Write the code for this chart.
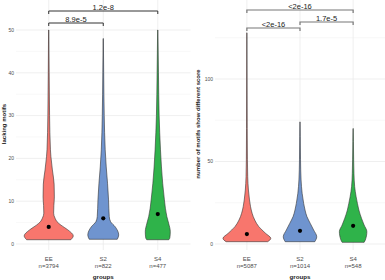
<!DOCTYPE html>
<html>
<head>
<meta charset="utf-8">
<script src="https://cdn.jsdelivr.net/npm/d3@7"></script>
<style>
  body { margin: 0; background: #fff; }
  text { font-family: "Liberation Sans", Arial, sans-serif; }
</style>
</head>
<body>
<div id="chart"></div>
<script>
const groups = ['EE', 'S2', 'S4']
const colors = ['#F8766D', '#6F94CF', '#2FB34A']

// left panel: lacking motifs
const lackCounts = ['n=3794', 'n=822', 'n=477']
const lackCenters = [4, 6, 7]
// [value, relative density]
const lackEE = [[1, 0.9], [1.9, 1.0], [3.3, 0.78], [4.4, 0.5], [5.2, 0.34], [6, 0.26], [7.2, 0.2], [9, 0.21], [11, 0.23], [14, 0.22], [17.3, 0.15], [20.4, 0.09], [22, 0.07], [30, 0.035], [40, 0.018], [50, 0.006]]
const lackS2 = [[1.1, 0.57], [2.1, 0.63], [4, 0.49], [5.2, 0.3], [6.4, 0.245], [10.3, 0.216], [14.2, 0.175], [18, 0.122], [22, 0.08], [30, 0.04], [40, 0.018], [48, 0.005]]
const lackS4 = [[1, 0.45], [1.4, 0.49], [2.9, 0.51], [4.9, 0.44], [6.4, 0.37], [10.3, 0.27], [14.2, 0.2], [18, 0.15], [22, 0.11], [30, 0.055], [40, 0.028], [50, 0.006]]
const lackTicks = [0, 10, 20, 30, 40, 50]
const lackMinor = [5, 15, 25, 35, 45]
const lackSig = [
  {from: 0, to: 1, label: '8.9e-5', y: 23},
  {from: 0, to: 2, label: '1.2e-8', y: 11}
]

// right panel: motifs with different score
const diffCounts = ['n=5087', 'n=1014', 'n=548']
const diffCenters = [6, 8, 11]
const diffEE = [[1.4, 0.87], [3.4, 1.0], [6.5, 0.78], [10.5, 0.5], [14.5, 0.33], [18.6, 0.22], [22.6, 0.154], [26.7, 0.11], [32.7, 0.065], [40.8, 0.035], [51, 0.022], [70, 0.014], [100, 0.008], [128, 0.004]]
const diffS2 = [[1.4, 0.62], [4.4, 0.7], [8.5, 0.57], [12.5, 0.43], [16.6, 0.29], [20.6, 0.21], [24.6, 0.154], [30.7, 0.09], [38.8, 0.045], [51, 0.022], [65, 0.012], [74, 0.004]]
const diffS4 = [[1, 0.46], [2.4, 0.51], [7.5, 0.575], [11.5, 0.46], [15.6, 0.35], [20.6, 0.24], [24.6, 0.18], [28.7, 0.125], [34.7, 0.065], [42.8, 0.035], [51, 0.022], [62, 0.012], [70, 0.004]]
const diffTicks = [0, 50, 100]
const diffMinor = [25, 75, 125]
const diffSig = [
  {from: 0, to: 1, label: '<2e-16', y: 28},
  {from: 1, to: 2, label: '1.7e-5', y: 22},
  {from: 0, to: 2, label: '<2e-16', y: 10}
]

const svg = d3
  .select('#chart')
  .append('svg')
  .attr('width', 385)
  .attr('height', 280)

function drawPanel(opt) {
  const g = svg.append('g')
  const x = d3
    .scalePoint()
    .domain(groups)
    .range([opt.left, opt.right])
    .padding(0.6)
  const y = d3
    .scaleLinear()
    .domain(opt.domain)
    .range([244, opt.topPx])
  const halfMax = x.step() * 0.45

  //grid
  g.selectAll('.minor')
    .data(opt.minor)
    .enter()
    .append('line')
    .attr('x1', opt.left)
    .attr('x2', opt.right)
    .attr('y1', d => y(d))
    .attr('y2', d => y(d))
    .attr('stroke', '#f3f3f3')
    .attr('stroke-width', 0.6)
  g.selectAll('.major')
    .data(opt.ticks)
    .enter()
    .append('line')
    .attr('x1', opt.left)
    .attr('x2', opt.right)
    .attr('y1', d => y(d))
    .attr('y2', d => y(d))
    .attr('stroke', '#ebebeb')
    .attr('stroke-width', 0.8)
  g.selectAll('.vgrid')
    .data(groups)
    .enter()
    .append('line')
    .attr('x1', d => x(d))
    .attr('x2', d => x(d))
    .attr('y1', 0)
    .attr('y2', 250)
    .attr('stroke', '#ebebeb')
    .attr('stroke-width', 0.8)

  //tick labels
  g.selectAll('.ytick')
    .data(opt.ticks)
    .enter()
    .append('text')
    .attr('x', opt.left - 2)
    .attr('y', d => y(d))
    .attr('dy', '0.35em')
    .attr('text-anchor', 'end')
    .attr('font-size', 5)
    .attr('fill', '#4d4d4d')
    .text(d => d)

  //violins
  const area = d3
    .area()
    .curve(d3.curveMonotoneY)
    .y(d => y(d[0]))
  opt.densities.forEach((dens, i) => {
    const cx = x(groups[i])
    g.append('path')
      .datum(dens)
      .attr('d', area.x0(d => cx - d[1] * halfMax).x1(d => cx + d[1] * halfMax))
      .attr('fill', colors[i])
      .attr('stroke', '#333')
      .attr('stroke-width', 0.6)
      .attr('stroke-linejoin', 'round')
    g.append('circle')
      .attr('cx', cx)
      .attr('cy', y(opt.centers[i]))
      .attr('r', 2.1)
      .attr('fill', '#000')
  })

  //x labels
  groups.forEach((grp, i) => {
    g.append('text')
      .attr('x', x(grp))
      .attr('y', 261)
      .attr('text-anchor', 'middle')
      .attr('font-size', 6)
      .attr('fill', '#4d4d4d')
      .text(grp)
    g.append('text')
      .attr('x', x(grp))
      .attr('y', 267.5)
      .attr('text-anchor', 'middle')
      .attr('font-size', 6)
      .attr('fill', '#4d4d4d')
      .text(opt.counts[i])
  })
  g.append('text')
    .attr('x', (opt.left + opt.right) / 2)
    .attr('y', 279)
    .attr('text-anchor', 'middle')
    .attr('font-size', 6.2)
    .attr('font-weight', 'bold')
    .attr('fill', '#222')
    .text('groups')
  g.append('text')
    .attr('transform', `translate(${opt.titleX},124) rotate(-90)`)
    .attr('text-anchor', 'middle')
    .attr('font-size', 6)
    .attr('font-weight', 'bold')
    .attr('fill', '#222')
    .text(opt.title)

  //significance brackets
  opt.sig.forEach(s => {
    const x1 = x(groups[s.from])
    const x2 = x(groups[s.to])
    g.append('path')
      .attr('d', `M${x1},${s.y + 3}V${s.y}H${x2}V${s.y + 3}`)
      .attr('fill', 'none')
      .attr('stroke', opt.sigColor)
      .attr('stroke-width', opt.sigWidth)
    g.append('text')
      .attr('x', (x1 + x2) / 2)
      .attr('y', s.y - 1.5)
      .attr('text-anchor', 'middle')
      .attr('font-size', 7.5)
      .attr('fill', '#222')
      .text(s.label)
  })
}

drawPanel({
  left: 16,
  right: 190.5,
  domain: [0, 50],
  topPx: 30,
  ticks: lackTicks,
  minor: lackMinor,
  densities: [lackEE, lackS2, lackS4],
  centers: lackCenters,
  counts: lackCounts,
  sig: lackSig,
  sigColor: '#333',
  sigWidth: 1,
  title: 'lacking motifs',
  titleX: 6
})

drawPanel({
  left: 215,
  right: 385,
  domain: [0, 100],
  topPx: 79,
  ticks: diffTicks,
  minor: diffMinor,
  densities: [diffEE, diffS2, diffS4],
  centers: diffCenters,
  counts: diffCounts,
  sig: diffSig,
  sigColor: '#777',
  sigWidth: 1.2,
  title: 'number of motifs show different score',
  titleX: 200
})
</script>
</body>
</html>
